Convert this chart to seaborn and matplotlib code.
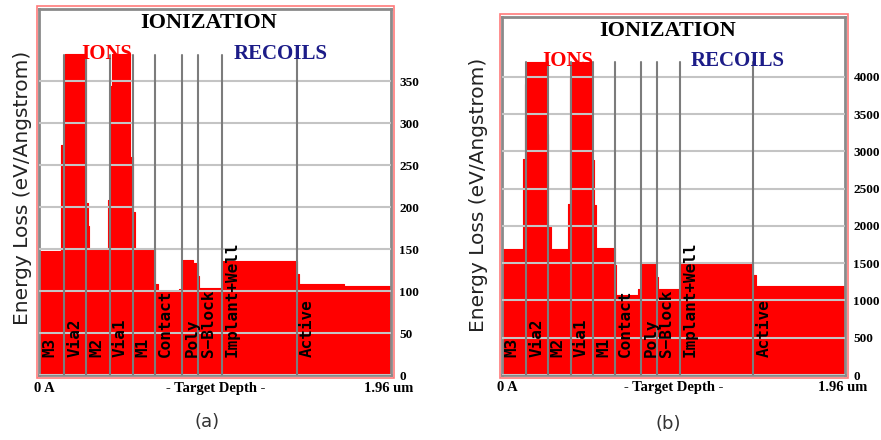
import pandas as pd
import seaborn as sns
import matplotlib.pyplot as plt
from matplotlib.patches import Rectangle

# layer boundaries along the target depth (um), shared by both panels
layer_names = ["M3", "Via2", "M2", "Via1", "M1", "Contact", "Poly",
               "S\u2212Block", "Implant+Well", "Active"]
layer_starts = [0.0, 0.140, 0.262, 0.393, 0.521, 0.644, 0.794, 0.884, 1.018, 1.437]
depth_max = 1.96

# panel (a): ionization profile, step edges (um) and levels (eV/A)
a_edges = [0, 0.123, 0.136, 0.145, 0.262, 0.270, 0.278, 0.382, 0.393, 0.405,
           0.508, 0.523, 0.536, 0.646, 0.660, 0.780, 0.794, 0.800, 0.860,
           0.884, 0.892, 1.018, 1.026, 1.437, 1.447, 1.700, 1.960]
a_levels = [148, 274, 340, 382, 205, 178, 149, 208, 344, 382,
            260, 194, 150, 108, 100, 103, 134, 137, 134,
            118, 104, 132, 136, 120, 108, 106]
a_ticks = [0, 50, 100, 150, 200, 250, 300, 350]

# panel (b)
b_edges = [0, 0.120, 0.133, 0.147, 0.252, 0.267, 0.281, 0.376, 0.391, 0.404,
           0.510, 0.524, 0.538, 0.646, 0.655, 0.780, 0.794, 0.800, 0.860,
           0.880, 0.890, 1.018, 1.026, 1.436, 1.450, 1.700, 1.960]
b_levels = [1690, 2900, 3900, 4200, 3240, 2000, 1690, 2300, 4000, 4200,
            2880, 2280, 1700, 1470, 1080, 1160, 1470, 1500, 1490,
            1320, 1155, 1450, 1500, 1340, 1200, 1190]
b_ticks = [0, 500, 1000, 1500, 2000, 2500, 3000, 3500, 4000]

sns.set_style("white")

fig = plt.figure(figsize=(8.81, 4.40), dpi=100)
ax_a = fig.add_axes([0.0446, 0.1477, 0.3989, 0.8318])
ax_b = fig.add_axes([0.5695, 0.1477, 0.3897, 0.8130])

serif = "Liberation Serif"


def draw_panel(ax, edges, levels, ticks, ytop):
    # step profile: each level holds until the next edge
    df = pd.DataFrame({"depth": edges, "loss": list(levels) + [levels[-1]]})
    ax.fill_between(df["depth"], df["loss"], step="post", color="#ff0000",
                    lw=0, zorder=1)
    sns.lineplot(data=df, x="depth", y="loss", drawstyle="steps-post",
                 color="#ff0000", lw=0.8, ax=ax, zorder=1)
    ax.set_xlim(0, depth_max)
    ax.set_ylim(0, ytop)
    ax.set_xlabel("")
    ax.set_ylabel("")
    ax.set_xticks([])
    ax.yaxis.tick_right()
    ax.set_yticks(ticks)
    ax.set_yticklabels([str(t) for t in ticks], fontfamily=serif,
                       fontweight="bold", fontsize=9.5, color="black")
    ax.tick_params(axis="y", length=0, pad=6)
    ax.set_axisbelow(False)
    ax.grid(axis="y", color="#c4c4c4", lw=1.5, zorder=2.5)
    for s in ax.spines.values():
        s.set_color("#8a8a8a")
        s.set_linewidth(2)

    for x in layer_starts[1:]:
        ax.axvline(x, ymin=0, ymax=0.875, color="#7c7c7c", lw=1.5, zorder=2.6)

    for name, x in zip(layer_names, layer_starts):
        ax.annotate(name, xy=(x, 0.05), xycoords=("data", "axes fraction"),
                    xytext=(7.5, 0), textcoords="offset points", rotation=90,
                    ha="center", va="bottom", fontsize=11.5, fontweight="bold",
                    fontfamily="DejaVu Sans Mono", color="black", zorder=4)

    ax.text(0.483, 0.962, "IONIZATION", transform=ax.transAxes, ha="center",
            va="center", fontsize=16, fontweight="bold", fontfamily=serif,
            color="black")
    ax.text(0.191, 0.877, "IONS", transform=ax.transAxes, ha="center",
            va="center", fontsize=15, fontweight="bold", fontfamily=serif,
            color="#ff0000")
    ax.text(0.687, 0.877, "RECOILS", transform=ax.transAxes, ha="center",
            va="center", fontsize=15, fontweight="bold", fontfamily=serif,
            color="#1c1c88")

    ax.text(-0.014, -0.036, "0 A", transform=ax.transAxes, ha="left",
            va="center", fontsize=10.5, fontweight="bold", fontfamily=serif,
            color="black")
    ax.text(0.502, -0.036, "- Target Depth -", transform=ax.transAxes,
            ha="center", va="center", fontsize=10.5, fontweight="bold",
            fontfamily=serif, color="black")
    ax.text(1.065, -0.036, "1.96 um", transform=ax.transAxes, ha="right",
            va="center", fontsize=10.5, fontweight="bold", fontfamily=serif,
            color="black")

    ax.add_patch(Rectangle((-0.006, -0.007), 1.016, 1.016, transform=ax.transAxes,
                           fill=False, edgecolor="#ff7a7a", lw=1.2, clip_on=False))


draw_panel(ax_a, a_edges, a_levels, a_ticks, 436)
draw_panel(ax_b, b_edges, b_levels, b_ticks, 4800)

fig.text(0.025, 0.572, "Energy Loss (eV/Angstrom)", rotation=90, ha="center",
         va="center", fontsize=14.5, color="#222222", fontfamily="DejaVu Sans")
fig.text(0.5426, 0.557, "Energy Loss (eV/Angstrom)", rotation=90, ha="center",
         va="center", fontsize=14.5, color="#222222", fontfamily="DejaVu Sans")
fig.text(0.235, 0.041, "(a)", ha="center", va="center", fontsize=13,
         color="#333333", fontfamily="DejaVu Sans")
fig.text(0.759, 0.036, "(b)", ha="center", va="center", fontsize=13,
         color="#333333", fontfamily="DejaVu Sans")

fig.savefig("out.png", dpi=100)
